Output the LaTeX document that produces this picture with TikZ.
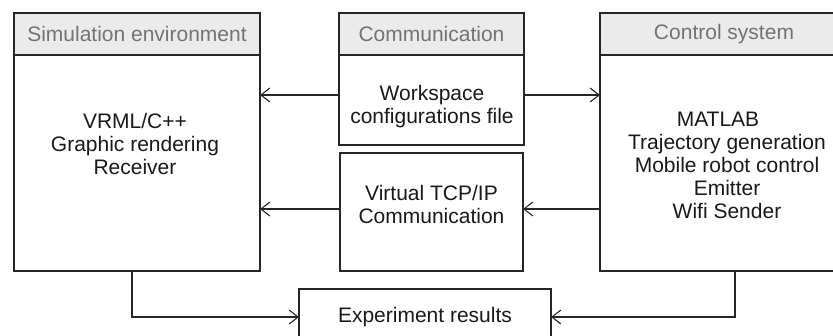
\documentclass[tikz,border=0pt]{standalone}
\usepackage{fontspec}
\setmainfont{Liberation Sans}
\usetikzlibrary{arrows.meta}
\begin{document}
\begin{tikzpicture}[x=1pt,y=-1pt,
  every node/.style={font=\fontsize{21}{23}\selectfont},
  frame/.style={draw=black!85, line width=1.3pt},
  header/.style={draw=black!85, line width=1.3pt, fill=black!8},
  htext/.style={text=black!55, inner sep=0pt},
  btext/.style={text=black!90, align=center, inner sep=0pt, anchor=north},
  conn/.style={draw=black!85, line width=1.3pt, -{Straight Barb[length=9pt,width=14pt,line width=1.1pt]}}
]
\useasboundingbox (0,0) rectangle (833,335);
\clip (0,0) rectangle (833,335);
% Simulation environment
\draw[frame] (14,13) rectangle (260,271);
\draw[header] (14,13) rectangle (260,55);
\node[htext] (simh) at (137,34) {Simulation environment};
\node[btext] (simt) at (135,113) {VRML/C++\\Graphic rendering\\Receiver};
\coordinate (simE1) at (260,95);
\coordinate (simE2) at (260,209);
\coordinate (simB) at (132,271);
% Communication
\draw[frame] (339,13) rectangle (524,145);
\draw[header] (339,13) rectangle (524,55);
\node[htext] (comh) at (431.5,34) {Communication};
\node[btext] (comt) at (432,85) {Workspace\\configurations file};
\coordinate (comW) at (339,95);
\coordinate (comE) at (524,95);
% Virtual TCP/IP
\draw[frame] (340,153) rectangle (523,271);
\node[btext] (vt) at (431.5,185) {Virtual TCP/IP\\Communication};
\coordinate (vtW) at (340,209);
\coordinate (vtE) at (523,209);
% Control system
\draw[frame] (600,13) rectangle (848,271);
\draw[header] (600,13) rectangle (848,55);
\node[htext] (cth) at (724,34) {Control system};
\node[btext] (ctt) at (727,112) {\fontsize{21}{23}\selectfont MATLAB\hspace*{18pt}\\Trajectory generation\\Mobile robot control\\Emitter\hspace*{14pt}\\Wifi Sender};
\coordinate (ctW1) at (600,95);
\coordinate (ctW2) at (600,209);
\coordinate (ctB) at (735,271);
% Experiment results
\draw[frame] (299,289) rectangle (551,350);
\node[htext, text=black!90] (exp) at (425,317) {Experiment results};
\coordinate (expW) at (299,317);
\coordinate (expE) at (551,317);
% connectors
\draw[conn] (comW) -- (simE1);
\draw[conn] (comE) -- (ctW1);
\draw[conn] (vtW) -- (simE2);
\draw[conn] (ctW2) -- (vtE);
\draw[conn] (simB) |- (expW);
\draw[conn] (ctB) |- (expE);
\end{tikzpicture}
\end{document}
